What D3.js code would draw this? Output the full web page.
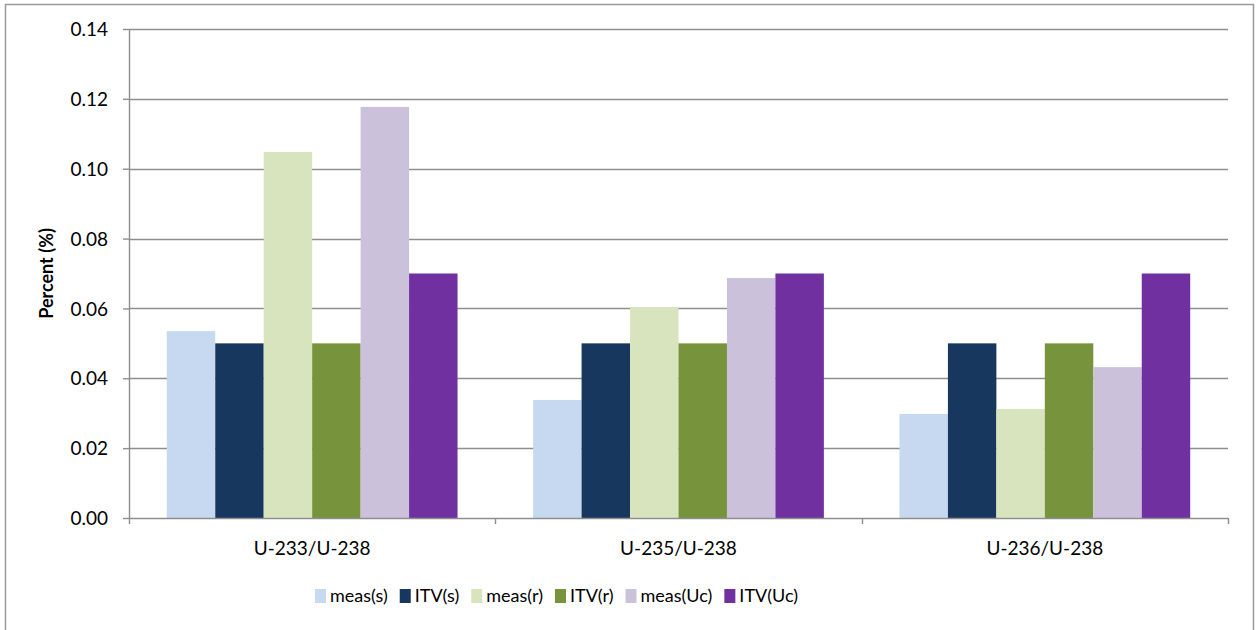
<!DOCTYPE html>
<html>
<head>
<meta charset="utf-8">
<script src="https://cdn.jsdelivr.net/npm/d3@7"></script>
<style>
  body { margin: 0; background: #fff; }
  svg text { font-family: Lato, "Open Sans", sans-serif; fill: #000; }
</style>
</head>
<body>
<div id="chart"></div>
<script>
// data
const categories = ['U-233/U-238', 'U-235/U-238', 'U-236/U-238'];
const seriesNames = ['meas(s)', 'ITV(s)', 'meas(r)', 'ITV(r)', 'meas(Uc)', 'ITV(Uc)'];
const seriesColors = ['#c6d9f1', '#17375e', '#d7e4bd', '#77933c', '#ccc1da', '#7030a0'];
const measS = [0.0535, 0.0338, 0.0298];
const itvS = [0.05, 0.05, 0.05];
const measR = [0.1048, 0.0604, 0.0312];
const itvR = [0.05, 0.05, 0.05];
const measUc = [0.1177, 0.0687, 0.0432];
const itvUc = [0.07, 0.07, 0.07];
const yTicks = [0, 0.02, 0.04, 0.06, 0.08, 0.10, 0.12, 0.14];

const seriesValues = [measS, itvS, measR, itvR, measUc, itvUc];

const W = 1256, H = 630;
const margin = { top: 29, right: 28, bottom: 112, left: 129 };
const width = W - margin.left - margin.right;
const height = H - margin.top - margin.bottom;

const svg = d3.select('#chart').append('svg')
  .attr('width', W)
  .attr('height', H);

// outer chart frame
svg.append('rect')
  .attr('x', 5.5).attr('y', 4.5)
  .attr('width', 1248).attr('height', 640)
  .attr('fill', 'none')
  .attr('stroke', '#9a9a9a')
  .attr('stroke-width', 1.5);

const chart = svg.append('g')
  .attr('transform', `translate(${margin.left},${margin.top})`);

const x0 = d3.scaleBand().domain(categories).range([0, width]).paddingInner(0).paddingOuter(0);
const x1 = d3.scaleBand().domain(seriesNames)
  .range([0, x0.bandwidth()]).paddingInner(0).paddingOuter(0.78);
const y = d3.scaleLinear().domain([0, 0.14]).range([height, 0]);
const color = d3.scaleOrdinal().domain(seriesNames).range(seriesColors);

// gridlines
chart.append('g')
  .selectAll('line')
  .data(yTicks.filter((d) => d > 0))
  .join('line')
  .attr('x1', 0).attr('x2', width)
  .attr('y1', (d) => Math.round(y(d)) + 0.5)
  .attr('y2', (d) => Math.round(y(d)) + 0.5)
  .attr('stroke', '#8e8e8e')
  .attr('stroke-width', 1.4);

// bars
const groups = chart.selectAll('.grp')
  .data(categories)
  .join('g')
  .attr('class', 'grp')
  .attr('transform', (d) => `translate(${x0(d)},0)`);

groups.selectAll('rect')
  .data((c, i) => seriesNames.map((s, j) => ({ s: s, v: seriesValues[j][i] })))
  .join('rect')
  .attr('x', (d) => x1(d.s))
  .attr('width', x1.bandwidth())
  .attr('y', (d) => y(d.v))
  .attr('height', (d) => height - y(d.v))
  .attr('fill', (d) => color(d.s));

// y axis
const yAxis = chart.append('g')
  .call(d3.axisLeft(y).tickValues(yTicks).tickFormat(d3.format('.2f')).tickSize(6).tickPadding(15));
yAxis.select('.domain').attr('stroke', '#8e8e8e').attr('stroke-width', 1.4).attr('d', `M0.5,0V${height}`);
yAxis.selectAll('.tick line').attr('stroke', '#8e8e8e').attr('stroke-width', 1.4);
yAxis.selectAll('.tick text').style('font-size', '19px').attr('dy', '0.35em');

// x axis
const xAxis = chart.append('g')
  .attr('transform', `translate(0,${height})`)
  .call(d3.axisBottom(x0).tickSize(0).tickPadding(24));
xAxis.select('.domain').attr('stroke', '#8e8e8e').attr('stroke-width', 1.4)
  .attr('d', `M0,0.5H${width}`);
xAxis.selectAll('.tick text').style('font-size', '19px');

// category separator ticks
chart.append('g')
  .selectAll('line')
  .data(d3.range(categories.length + 1))
  .join('line')
  .attr('x1', (i) => Math.round(i * x0.step()) + 0.5)
  .attr('x2', (i) => Math.round(i * x0.step()) + 0.5)
  .attr('y1', height).attr('y2', height + 6)
  .attr('stroke', '#8e8e8e')
  .attr('stroke-width', 1.4);

// y title
svg.append('text')
  .attr('transform', `translate(53,${margin.top + height / 2}) rotate(-90)`)
  .attr('text-anchor', 'middle')
  .style('font-size', '18px')
  .style('font-weight', 'bold')
  .text('Percent (%)');

// legend
const legend = svg.append('g').attr('transform', 'translate(315,589)');
let lx = 0;
seriesNames.forEach((s) => {
  const item = legend.append('g').attr('transform', `translate(${lx},0)`);
  item.append('rect')
    .attr('width', 11).attr('height', 14)
    .attr('fill', color(s));
  const t = item.append('text')
    .attr('x', 15).attr('y', 7).attr('dy', '0.35em')
    .style('font-size', '18px')
    .text(s);
  lx += 15 + t.node().getComputedTextLength() + 12;
});
</script>
</body>
</html>
